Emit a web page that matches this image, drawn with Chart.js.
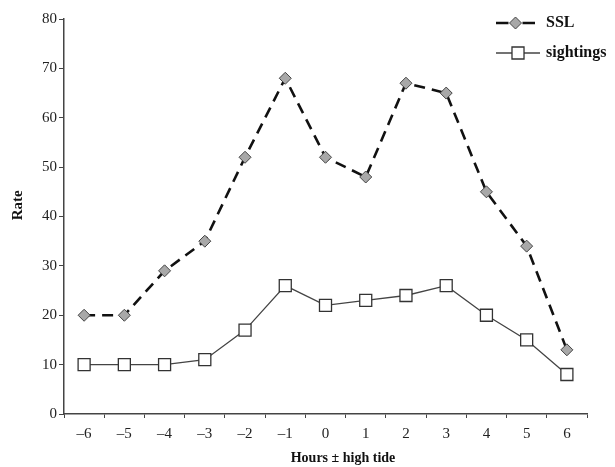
<!DOCTYPE html>
<html>
<head>
<meta charset="utf-8">
<script src="https://cdn.jsdelivr.net/npm/chart.js@4.4.1/dist/chart.umd.min.js"></script>
<style>
html,body{margin:0;padding:0;background:#fff;}
#wrap{width:615px;height:467px;position:relative;}
</style>
</head>
<body>
<div id="wrap"><canvas id="c" width="615" height="467"></canvas></div>
<script>
const hours = ['\u20136','\u20135','\u20134','\u20133','\u20132','\u20131','0','1','2','3','4','5','6'];
const sslValues = [20, 20, 29, 35, 52, 68, 52, 48, 67, 65, 45, 34, 13];
const sightingValues = [10, 10, 10, 11, 17, 26, 22, 23, 24, 26, 20, 15, 8];
const seriesNames = ['SSL', 'sightings'];
const yTicks = [0, 10, 20, 30, 40, 50, 60, 70, 80];

const FONT = "'Liberation Serif', 'Times New Roman', serif";

const legendPlugin = {
  id: 'lineLegend',
  afterDraw(chart) {
    const ctx = chart.ctx;
    const rows = [{y: 23, x0: 496, x1: 535}, {y: 53, x0: 496, x1: 540}];
    chart.data.datasets.forEach((ds, i) => {
      const r = rows[i];
      const mid = (r.x0 + r.x1) / 2;
      ctx.save();
      ctx.strokeStyle = ds.borderColor;
      ctx.lineWidth = ds.borderWidth;
      ctx.beginPath();
      if (ds.borderDash) {
        ctx.moveTo(r.x0, r.y); ctx.lineTo(mid - 7, r.y);
        ctx.moveTo(mid + 7, r.y); ctx.lineTo(r.x1, r.y);
      } else {
        ctx.moveTo(r.x0, r.y); ctx.lineTo(r.x1, r.y);
      }
      ctx.stroke();
      ctx.restore();
      ctx.save();
      ctx.fillStyle = ds.pointBackgroundColor;
      ctx.strokeStyle = ds.pointBorderColor;
      ctx.lineWidth = ds.pointBorderWidth;
      Chart.helpers.drawPoint(ctx, {pointStyle: ds.pointStyle, radius: ds.pointRadius, rotation: 0, borderWidth: ds.pointBorderWidth}, mid, r.y);
      ctx.restore();
      ctx.save();
      ctx.fillStyle = '#111';
      ctx.font = 'bold 16px ' + FONT;
      ctx.textBaseline = 'middle';
      ctx.fillText(ds.label, 546, r.y);
      ctx.restore();
    });
  }
};

new Chart(document.getElementById('c'), {
  type: 'line',
  data: {
    labels: hours,
    datasets: [
      {
        label: seriesNames[0],
        data: sslValues,
        borderColor: '#111',
        borderWidth: 2.6,
        borderDash: [11, 7],
        pointStyle: 'rectRot',
        pointRadius: 6,
        pointBackgroundColor: '#a8a8a8',
        pointBorderColor: '#444',
        pointBorderWidth: 1,
        tension: 0
      },
      {
        label: seriesNames[1],
        data: sightingValues,
        borderColor: '#444',
        borderWidth: 1.3,
        pointStyle: 'rect',
        pointRadius: 8.5,
        pointBackgroundColor: '#fff',
        pointBorderColor: '#333',
        pointBorderWidth: 1.3,
        tension: 0
      }
    ]
  },
  options: {
    responsive: false,
    animation: false,
    layout: {padding: {top: 19, right: 28, left: 0, bottom: 0}},
    plugins: {legend: {display: false}, tooltip: {enabled: false}},
    scales: {
      x: {
        type: 'category',
        offset: true,
        grid: {offset: true, drawOnChartArea: false, drawTicks: true, tickLength: 4, color: '#444', tickWidth: 1},
        border: {display: true, color: '#444', width: 1.5},
        ticks: {color: '#222', font: {family: FONT, size: 15}, padding: 7, maxRotation: 0, autoSkip: false},
        title: {display: true, text: '\u2003\u2003\u2002Hours \u00b1 high tide', color: '#111', font: {family: FONT, size: 14, weight: 'bold'}, padding: {top: 0, bottom: 0}},
        afterFit(scale) { scale.height = 53; }
      },
      y: {
        min: 0,
        max: 80,
        afterBuildTicks(scale) { scale.ticks = yTicks.map(v => ({value: v})); },
        grid: {drawOnChartArea: false, drawTicks: true, tickLength: 5, color: '#444'},
        border: {display: true, color: '#444', width: 1.5},
        ticks: {color: '#222', font: {family: FONT, size: 15}, padding: 2},
        title: {display: true, text: '\u2003\u2002Rate', color: '#111', font: {family: FONT, size: 15, weight: 'bold'}, padding: {top: 9, bottom: 0}},
        afterFit(scale) { scale.width = 64; }
      }
    }
  },
  plugins: [legendPlugin]
});
</script>
</body>
</html>
